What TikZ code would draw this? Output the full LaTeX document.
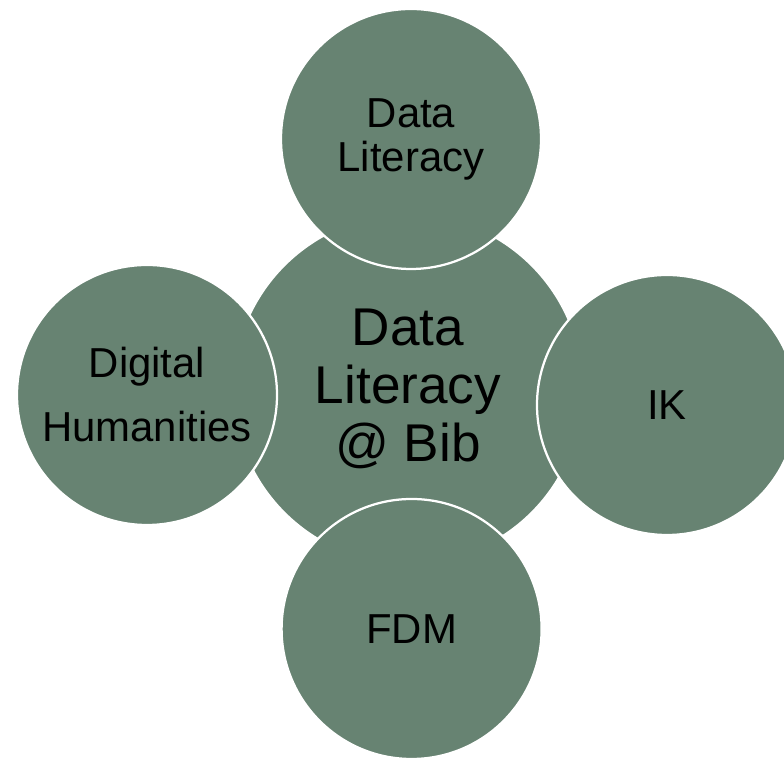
\documentclass[tikz,border=0pt]{standalone}
\usepackage{fontspec}
\setmainfont{Liberation Sans}
\usepackage{xcolor}
\definecolor{sage}{RGB}{103,131,114}
\tikzset{bubble/.style={circle,fill=sage,draw=white,line width=1.6pt,inner sep=0pt,align=center,text=black},
         hub/.style={bubble,minimum size=8.75cm,font={\fontsize{37.8}{41.3}\selectfont}},
         spoke/.style={bubble,minimum size=6.5cm,font={\fontsize{29.8}{31.3}\selectfont}},
         widespoke/.style={spoke,font={\fontsize{29.8}{45.5}\selectfont}},
         }
\begin{document}
\begin{tikzpicture}
\useasboundingbox (0,0) rectangle (19.6,18.975);
\node[hub] (dlbib) at (10.2,9.25) {Data\\Literacy\\@ Bib};
\node[spoke] (dl) at (10.275,15.5) {Data\\Literacy};
\node[spoke] (ik) at (16.675,8.85) {IK};
\node[widespoke] (dh) at (3.675,9.1) {Digital\\Humanities};
\node[spoke] (fdm) at (10.29,3.25) {FDM};
\end{tikzpicture}
\end{document}
